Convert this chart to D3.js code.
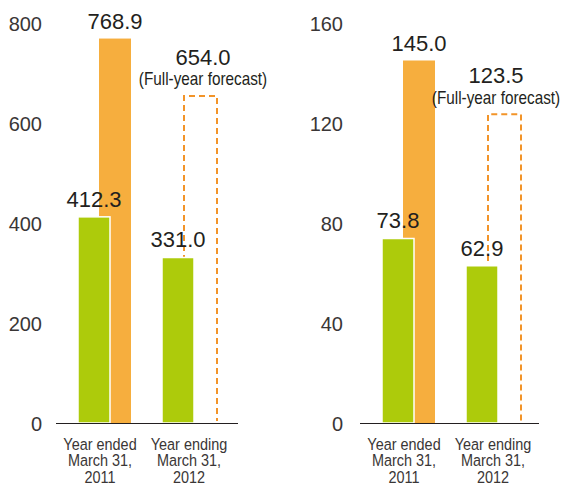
<!DOCTYPE html>
<html>
<head>
<meta charset="utf-8">
<script src="https://cdn.jsdelivr.net/npm/d3@7"></script>
<style>
  body { margin: 0; background: #fff; }
  .tick text { font-family: "Liberation Sans", Arial, sans-serif; font-size: 20px; fill: #3a3636; }
  .val { font-family: "Liberation Sans", Arial, sans-serif; font-size: 22px; fill: #231f20; text-anchor: middle; }
  .note { font-family: "Liberation Sans", Arial, sans-serif; font-size: 18px; fill: #231f20; text-anchor: middle; }
  .cat { font-family: "Liberation Sans", Arial, sans-serif; font-size: 17px; fill: #3a3636; text-anchor: middle; }
</style>
</head>
<body>
<div id="vis_container"></div>
<script>
// categories and tick labels
var years = ["2011", "2012"];
var catLines = [["Year ended", "March 31,", "2011"], ["Year ending", "March 31,", "2012"]];
var forecastNote = "(Full-year forecast)";

// left chart
var leftGreen = [412.3, 331.0];
var leftOrange = [768.9, 654.0];   // 2012 is forecast
var leftTicks = [0, 200, 400, 600, 800];

// right chart
var rightGreen = [73.8, 62.9];
var rightOrange = [145.0, 123.5];  // 2012 is forecast
var rightTicks = [0, 40, 80, 120, 160];

var width = 561, height = 489;
var base = 423;
var green = "#adcb0b", orange = "#f6ae3e", dashed = "#f29429";
var squeeze = 0.85;   // the original type is a condensed face

var svg = d3.select("#vis_container")
    .append("svg")
    .attr("width", width)
    .attr("height", height);

function buildPanel(opts) {
    var y = d3.scaleLinear()
        .domain([0, opts.max])
        .range([base, base - 400]);

    var x = d3.scaleBand()
        .domain(years)
        .range([opts.x0, opts.x0 + 137])
        .paddingInner(31 / 84)
        .paddingOuter(0);

    // y axis, labels only
    var ax = svg.append("g")
        .attr("transform", "translate(" + opts.axisX + ",0)")
        .call(d3.axisLeft(y).tickValues(opts.ticks).tickSize(0).tickPadding(0));
    ax.select(".domain").remove();
    ax.selectAll(".tick text").attr("dy", "0.36em");

    // orange bars (solid for actual, dashed for forecast)
    svg.append("rect")
        .attr("x", x(years[0]) + 21)
        .attr("y", y(opts.orange[0]))
        .attr("width", 32)
        .attr("height", base - y(opts.orange[0]))
        .attr("fill", orange);

    svg.append("path")
        .attr("d", d3.line()([
            [x(years[1]) + 22, base - 2],
            [x(years[1]) + 22, y(opts.orange[1])],
            [x(years[1]) + 55, y(opts.orange[1])],
            [x(years[1]) + 55, base - 2]
        ]))
        .attr("fill", "none")
        .attr("stroke", dashed)
        .attr("stroke-width", 2)
        .attr("stroke-dasharray", "6,4");

    // green bars on top with white edge
    svg.selectAll(null)
        .data(opts.green)
        .enter().append("rect")
        .attr("x", function (d, i) { return x(years[i]); })
        .attr("y", function (d) { return y(d); })
        .attr("width", 32)
        .attr("height", function (d) { return base - y(d); })
        .attr("fill", green)
        .attr("stroke", "#fff")
        .attr("stroke-width", 1.5);

    // baseline
    svg.append("line")
        .attr("x1", opts.lineX[0]).attr("x2", opts.lineX[1])
        .attr("y1", base + 0.5).attr("y2", base + 0.5)
        .attr("stroke", "#231f20")
        .attr("stroke-width", 1);

    // value labels
    svg.selectAll(null)
        .data(opts.green)
        .enter().append("text")
        .attr("class", "val")
        .attr("x", function (d, i) { return x(years[i]) + 16; })
        .attr("y", function (d) { return y(d) - 18; })
        .attr("dy", "0.36em")
        .text(function (d) { return d.toFixed(1); });

    svg.append("text")
        .attr("class", "val")
        .attr("x", x(years[0]) + 37)
        .attr("y", y(opts.orange[0]) - 17)
        .attr("dy", "0.36em")
        .text(opts.orange[0].toFixed(1));

    svg.append("text")
        .attr("class", "val")
        .attr("x", x(years[1]) + opts.noteDx)
        .attr("y", y(opts.orange[1]) - 39)
        .attr("dy", "0.36em")
        .text(opts.orange[1].toFixed(1));

    svg.append("text")
        .attr("class", "note")
        .attr("transform", "translate(" + (x(years[1]) + opts.noteDx) + "," + (y(opts.orange[1]) - 17) + ") scale(" + squeeze + ",1)")
        .attr("dy", "0.36em")
        .text(forecastNote);

    // category labels
    years.forEach(function (yr, i) {
        var cx = x(yr) + opts.catDx[i];
        var t = svg.append("text")
            .attr("class", "cat")
            .attr("transform", "translate(" + cx + ",450) scale(" + squeeze + ",1)");
        catLines[i].forEach(function (ln, j) {
            t.append("tspan")
                .attr("x", 0)
                .attr("dy", j === 0 ? 0 : 16.5)
                .text(ln);
        });
    });
}

buildPanel({ max: 800, ticks: leftTicks, green: leftGreen, orange: leftOrange,
             x0: 78, axisX: 42, lineX: [56, 238], noteDx: 41, catDx: [22, 27] });
buildPanel({ max: 160, ticks: rightTicks, green: rightGreen, orange: rightOrange,
             x0: 382, axisX: 343, lineX: [360, 539], noteDx: 30, catDx: [22, 27] });
</script>
</body>
</html>
